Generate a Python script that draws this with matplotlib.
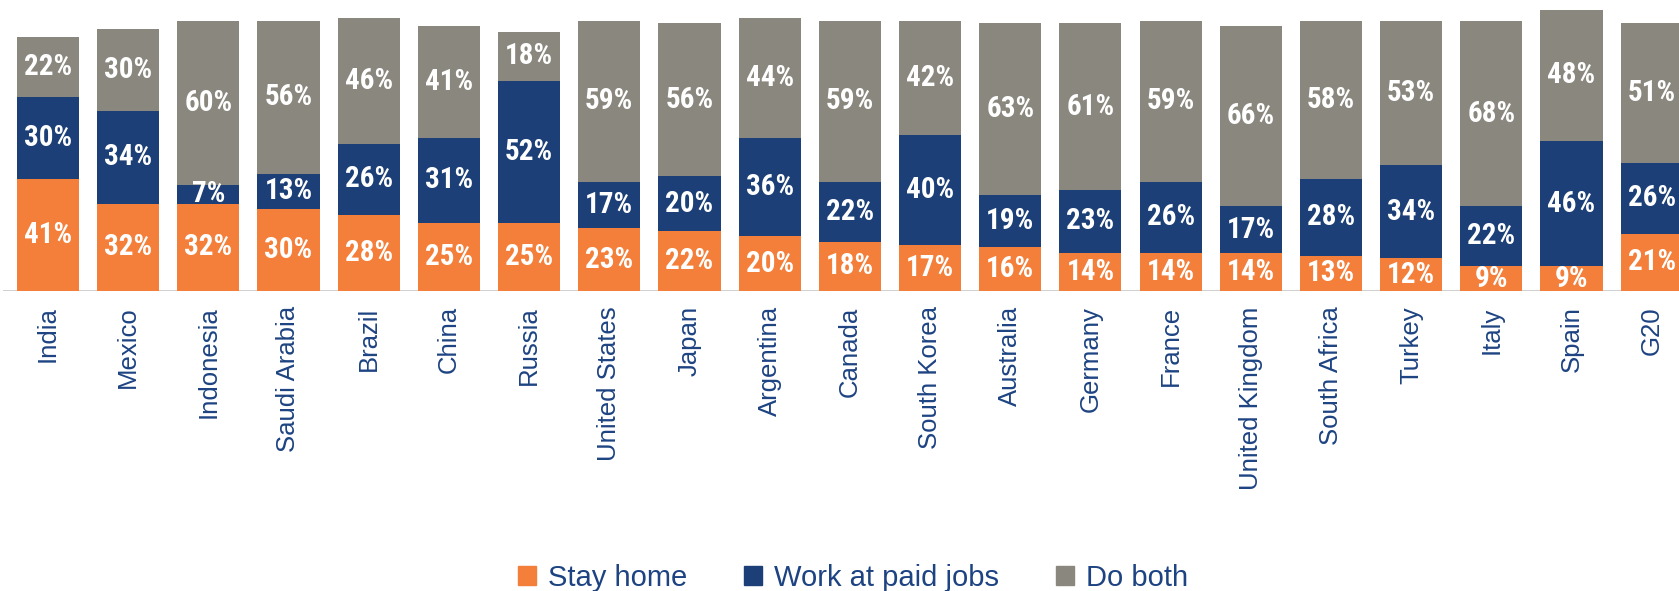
import numpy as np
import matplotlib.pyplot as plt
from matplotlib.patches import Patch

countries = ['India', 'Mexico', 'Indonesia', 'Saudi Arabia', 'Brazil', 'China',
             'Russia', 'United States', 'Japan', 'Argentina', 'Canada',
             'South Korea', 'Australia', 'Germany', 'France', 'United Kingdom',
             'South Africa', 'Turkey', 'Italy', 'Spain', 'G20']
stay_home = [41, 32, 32, 30, 28, 25, 25, 23, 22, 20, 18, 17, 16, 14, 14, 14, 13, 12, 9, 9, 21]
paid_jobs = [30, 34, 7, 13, 26, 31, 52, 17, 20, 36, 22, 40, 19, 23, 26, 17, 28, 34, 22, 46, 26]
do_both = [22, 30, 60, 56, 46, 41, 18, 59, 56, 44, 59, 42, 63, 61, 59, 66, 58, 53, 68, 48, 51]

series = [('Stay home', stay_home, '#f47f3a'),
          ('Work at paid jobs', paid_jobs, '#1b3f76'),
          ('Do both', do_both, '#8a877e')]

text_blue = '#1d4382'
sans = ['Liberation Sans', 'DejaVu Sans']

fig = plt.figure(figsize=(16.79, 5.91), dpi=100)
ax = fig.add_axes([3 / 1679, 300 / 591, 1676 / 1679, 291 / 591])

x = np.arange(len(countries))
bottom = np.zeros(len(countries))
for name, vals, color in series:
    vals = np.array(vals)
    ax.bar(x, vals, 0.775, bottom=bottom, color=color, label=name, zorder=2)
    # percentage in the middle of each segment
    for xi, b, v in zip(x, bottom, vals):
        ax.text(xi, b + v / 2, f'{v}%', ha='center', va='center', color='white',
                fontsize=21, fontweight='bold',
                family=['Roboto Condensed', 'DejaVu Sans'], zorder=3)
    bottom += vals

ax.set_xlim(-0.56, 20.34)
ax.set_ylim(0, 106.6)
ax.axhline(0, color='#cccccc', lw=2, zorder=1)
for s in ax.spines.values():
    s.set_visible(False)
ax.set_yticks([])
ax.set_xticks(x)
ax.set_xticklabels(countries, rotation=90, fontsize=18.5, color=text_blue, family=sans)
ax.tick_params(axis='x', length=0, pad=11)

handles = [Patch(color=c, label=n) for n, _, c in series]
fig.legend(handles=handles, loc='center', bbox_to_anchor=(853 / 1679, 13 / 591),
           ncol=3, frameon=False, handlelength=0.62, handleheight=0.62,
           handletextpad=0.4, columnspacing=1.95, labelcolor=text_blue,
           prop={'family': sans, 'size': 21})

fig.savefig('out.png', dpi=100)
